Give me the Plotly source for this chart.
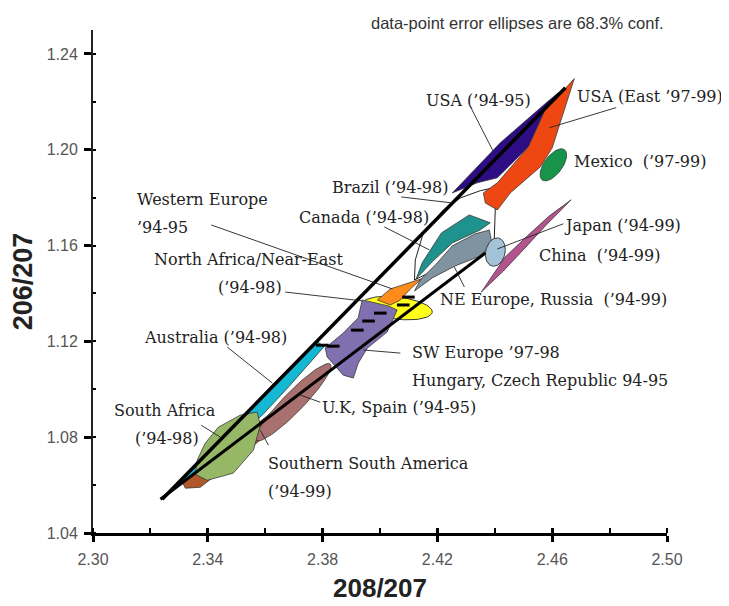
import numpy as np
import plotly.graph_objects as go

# ---------------- data (208/207 , 206/207) ----------------
brazil_x = [2.4120, 2.4123, 2.4151, 2.4221, 2.4280, 2.4349, 2.4409, 2.4402, 2.4398]
brazil_y = [1.1456, 1.1540, 1.1653, 1.1749, 1.1799, 1.1829, 1.1845, 1.1762, 1.1624]

usa94_x = [2.4252, 2.4419, 2.4583, 2.4621, 2.4583, 2.4517, 2.4409, 2.4339]
usa94_y = [1.1820, 1.2029, 1.2200, 1.2238, 1.2179, 1.2012, 1.1883, 1.1862]

usa_east_x = [2.4677, 2.4600, 2.4559, 2.4454, 2.4409, 2.4367, 2.4360, 2.4409, 2.4517, 2.4579, 2.4635]
usa_east_y = [1.2297, 1.2008, 1.1929, 1.1820, 1.1749, 1.1778, 1.1820, 1.1862, 1.2012, 1.2176, 1.2242]

japan_x = [2.4353, 2.4430, 2.4499, 2.4576, 2.4666, 2.4590, 2.4513, 2.4436]
japan_y = [1.1406, 1.1494, 1.1582, 1.1682, 1.1791, 1.1724, 1.1640, 1.1552]

canada_x = [2.4311, 2.4384, 2.4349, 2.4252, 2.4182, 2.4126, 2.4147, 2.4214]
canada_y = [1.1728, 1.1695, 1.1665, 1.1611, 1.1532, 1.1461, 1.1528, 1.1653]

ne_europe_x = [2.4381, 2.4391, 2.4342, 2.4262, 2.4182, 2.4120, 2.4140, 2.4196, 2.4252, 2.4332]
ne_europe_y = [1.1665, 1.1603, 1.1553, 1.1515, 1.1465, 1.1410, 1.1456, 1.1523, 1.1599, 1.1649]

w_europe_x = [2.3991, 2.4036, 2.4144, 2.4106, 2.4071, 2.4036]
w_europe_y = [1.1373, 1.1419, 1.1461, 1.1419, 1.1373, 1.1352]

sw_europe_x = [2.3938, 2.4029, 2.4060, 2.4025, 2.3956, 2.3924, 2.3907, 2.3872, 2.3816, 2.3809, 2.3872, 2.3924]
sw_europe_y = [1.1373, 1.1348, 1.1331, 1.1239, 1.1172, 1.1109, 1.1047, 1.1059, 1.1135, 1.1172, 1.1235, 1.1298]

australia_x = [2.3785, 2.3805, 2.3683, 2.3592, 2.3339, 2.3308, 2.3513, 2.3670]
australia_y = [1.1196, 1.1178, 1.1012, 1.0895, 1.0612, 1.0612, 1.0880, 1.1072]

s_america_x = [2.3322, 2.3374, 2.3583, 2.3670, 2.3722, 2.3653, 2.3566, 2.3374, 2.3311]
s_america_y = [1.0587, 1.0591, 1.0788, 1.0871, 1.0963, 1.0934, 1.0850, 1.0662, 1.0612]

s_africa_x = [2.3572, 2.3513, 2.3437, 2.3391, 2.3363, 2.3356, 2.3398, 2.3489, 2.3559, 2.3583]
s_africa_y = [1.0905, 1.0892, 1.0842, 1.0775, 1.0704, 1.0645, 1.0620, 1.0650, 1.0746, 1.0850]

# error ellipses: centre and two conjugate half-axis vectors
mexico_ell = dict(cx=2.4604, cy=1.1937, ax=0.0039, ay=0.0063, bx=0.0025, by=-0.0023)
china_ell = dict(cx=2.4402, cy=1.1573, ax=0.00105, ay=0.00585, bx=0.0033, by=-0.0008)
n_africa_ell = dict(cx=2.4060, cy=1.1339, ax=0.0122, ay=-0.0017, bx=0.0004, by=0.0046)
uk_spain_ell = dict(cx=2.3698, cy=1.0946, ax=0.0129, ay=0.0159, bx=0.0025, by=-0.0029)

# individual data points (black marks)
points_x = [2.4001, 2.3960, 2.3921, 2.3799, 2.3837, 2.4081, 2.4099]
points_y = [1.1318, 1.1285, 1.1247, 1.1184, 1.1180, 1.1352, 1.1385]

# regression lines
line_upper_x = [2.3241, 2.4646]
line_upper_y = [1.0541, 1.2259]
line_lower_x = [2.3235, 2.4367]
line_lower_y = [1.0541, 1.1569]

# leader lines: (x0, y0, x1, y1)
leaders = [
    (2.4315, 1.2180, 2.4395, 1.1992),
    (2.4823, 1.2176, 2.4590, 1.2092),
    (2.4074, 1.1803, 2.4252, 1.1778),
    (2.4015, 1.1678, 2.4172, 1.1582),
    (2.4639, 1.1691, 2.4409, 1.1586),
    (2.4294, 1.1427, 2.4259, 1.1511),
    (2.3412, 1.1686, 2.4043, 1.1419),
    (2.3670, 1.1406, 2.3938, 1.1369),
    (2.3468, 1.1176, 2.3625, 1.1026),
    (2.3942, 1.1164, 2.4071, 1.1151),
    (2.3792, 1.0946, 2.3722, 1.0976),
    (2.3377, 1.0850, 2.3444, 1.0800),
    (2.3611, 1.0767, 2.3583, 1.0829),
]

# labels: (text, x, y) left-anchored
labels = [
    ("USA (\u201994-95)", 2.4154, 1.2205),
    ("USA (East \u201997-99)", 2.4680, 1.2221),
    ("Mexico  (\u201997-99)", 2.4670, 1.1950),
    ("Brazil (\u201994-98)", 2.3827, 1.1841),
    ("Canada (\u201994-98)", 2.3712, 1.1716),
    ("Japan (\u201994-99)", 2.4635, 1.1682),
    ("China  (\u201994-99)", 2.4548, 1.1557),
    ("NE Europe, Russia  (\u201994-99)", 2.4203, 1.1373),
    ("Western Europe", 2.3147, 1.1791),
    ("\u201994-95", 2.3147, 1.1674),
    ("North Africa/Near-East", 2.3207, 1.1540),
    ("(\u201994-98)", 2.3430, 1.1423),
    ("Australia (\u201994-98)", 2.3172, 1.1218),
    ("SW Europe \u201997-98", 2.4106, 1.1155),
    ("Hungary, Czech Republic 94-95", 2.4106, 1.1038),
    ("U.K, Spain (\u201994-95)", 2.3792, 1.0926),
    ("South Africa", 2.3067, 1.0913),
    ("(\u201994-98)", 2.3140, 1.0796),
    ("Southern South America", 2.3604, 1.0691),
    ("(\u201994-99)", 2.3604, 1.0574),
]

x_ticks = [2.30, 2.34, 2.38, 2.42, 2.46, 2.50]
y_ticks = [1.04, 1.08, 1.12, 1.16, 1.20, 1.24]

# ---------------- figure ----------------
EDGE = "#3a3a3a"


def ellipse(e, n=72):
    t = np.linspace(0, 2 * np.pi, n)
    xs = e["cx"] + e["ax"] * np.cos(t) + e["bx"] * np.sin(t)
    ys = e["cy"] + e["ay"] * np.cos(t) + e["by"] * np.sin(t)
    return list(xs), list(ys)


def poly(xs, ys, color, lw=0.8, lc=EDGE):
    return go.Scatter(x=list(xs) + [xs[0]], y=list(ys) + [ys[0]], mode="lines",
                      fill="toself", fillcolor=color,
                      line=dict(color=lc, width=lw), hoverinfo="skip",
                      showlegend=False)


fig = go.Figure()
fig.add_trace(poly(brazil_x, brazil_y, "white", lw=1.0, lc="#222"))
fig.add_trace(poly(usa94_x, usa94_y, "#2E0D84"))
fig.add_trace(poly(usa_east_x, usa_east_y, "#EE4712"))
mx, my = ellipse(mexico_ell)
fig.add_trace(poly(mx, my, "#179449"))
fig.add_trace(poly(japan_x, japan_y, "#B3548F"))
fig.add_trace(poly(canada_x, canada_y, "#1E928C"))
fig.add_trace(poly(ne_europe_x, ne_europe_y, "#7F93A1"))
cx_, cy_ = ellipse(china_ell)
fig.add_trace(poly(cx_, cy_, "#A4C2D8", lw=1.0))
nx, ny = ellipse(n_africa_ell)
fig.add_trace(poly(nx, ny, "#FFFF1A", lw=1.0))
fig.add_trace(poly(w_europe_x, w_europe_y, "#FF8C1A"))
fig.add_trace(poly(sw_europe_x, sw_europe_y, "#8070B0"))
fig.add_trace(poly(australia_x, australia_y, "#14B8D2"))
fig.add_trace(poly(s_america_x, s_america_y, "#B0582A"))
ux, uy = ellipse(uk_spain_ell)
fig.add_trace(poly(ux, uy, "#A8706E"))
fig.add_trace(poly(s_africa_x, s_africa_y, "#96B866"))

fig.add_trace(go.Scatter(x=points_x, y=points_y, mode="markers",
                         marker=dict(symbol="line-ew", size=9,
                                     line=dict(color="black", width=3)),
                         hoverinfo="skip", showlegend=False))

fig.add_trace(go.Scatter(x=line_upper_x, y=line_upper_y, mode="lines",
                         line=dict(color="black", width=3.5),
                         hoverinfo="skip", showlegend=False))
fig.add_trace(go.Scatter(x=line_lower_x, y=line_lower_y, mode="lines",
                         line=dict(color="black", width=3),
                         hoverinfo="skip", showlegend=False))

lx, ly = [], []
for x0, y0, x1, y1 in leaders:
    lx += [x0, x1, None]
    ly += [y0, y1, None]
fig.add_trace(go.Scatter(x=lx, y=ly, mode="lines",
                         line=dict(color="#222", width=0.9),
                         hoverinfo="skip", showlegend=False))

# overlay axis used only for the inner half of the x ticks
fig.add_trace(go.Scatter(x=[None], y=[None], xaxis="x2", showlegend=False))

for text, x, y in labels:
    fig.add_annotation(x=x, y=y, xref="x", yref="y", text=text, showarrow=False,
                       xanchor="left", yanchor="middle",
                       font=dict(family="DejaVu Serif", size=16, color="#222"))

fig.add_annotation(x=0.4814, y=1.014, xref="paper", yref="paper",
                   text="data-point error ellipses are 68.3% conf.",
                   showarrow=False, xanchor="left", yanchor="middle",
                   font=dict(family="Liberation Sans", size=16.5, color="#333"))

# x-axis title as an annotation, kept just inside the bottom edge
fig.add_annotation(x=0.5, y=-0.1425, xref="paper", yref="paper",
                   text="<b>208/207</b>", showarrow=False,
                   xanchor="center", yanchor="bottom",
                   font=dict(family="Liberation Sans", size=26, color="#222"))

tickfont = dict(family="Liberation Sans", size=16, color="#555")

fig.update_layout(
    width=721, height=598,
    margin=dict(l=85, r=62, t=22, b=73),
    paper_bgcolor="white", plot_bgcolor="white",
    showlegend=False,
    xaxis=dict(range=[2.30, 2.50], tickvals=x_ticks, tickformat=".2f",
               showline=True, linewidth=3, linecolor="black",
               ticks="outside", ticklen=6, tickwidth=3, tickcolor="black",
               minor=dict(dtick=0.02, tick0=2.30, ticks="inside", ticklen=5,
                          tickwidth=2, tickcolor="black"),
               showgrid=False, zeroline=False, tickfont=tickfont,
               ticklabelstandoff=4, automargin=False),
    xaxis2=dict(range=[2.30, 2.50], overlaying="x", side="bottom",
                tickvals=x_ticks, ticks="inside", ticklen=5, tickwidth=3,
                tickcolor="black", showticklabels=False, showgrid=False,
                zeroline=False, showline=False, automargin=False),
    yaxis=dict(range=[1.04, 1.25], tickvals=y_ticks, tickformat=".2f",
               showline=True, linewidth=2, linecolor="#222",
               ticks="outside", ticklen=7, tickwidth=2.5, tickcolor="black",
               minor=dict(dtick=0.02, tick0=1.04, ticks="inside", ticklen=3,
                          tickwidth=2, tickcolor="black"),
               showgrid=False, zeroline=False, tickfont=tickfont,
               ticklabelstandoff=3, automargin=False,
               title=dict(text="<b>206/207</b>", standoff=12,
                          font=dict(family="Liberation Sans", size=27, color="#222"))),
)

fig.write_html("out.html")
